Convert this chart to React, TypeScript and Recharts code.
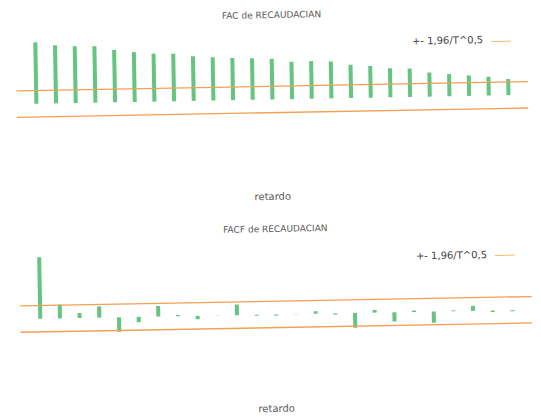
import React from 'react';
import { ComposedChart, Bar, XAxis, YAxis, ReferenceLine } from 'recharts';

const lags = [1, 2, 3, 4, 5, 6, 7, 8, 9, 10, 11, 12, 13, 14, 15, 16, 17, 18, 19, 20, 21, 22, 23, 24, 25];
const acfValues = [0.93, 0.88, 0.86, 0.855, 0.795, 0.755, 0.725, 0.72, 0.675, 0.655, 0.64, 0.63, 0.615, 0.565, 0.57, 0.56, 0.505, 0.48, 0.44, 0.43, 0.365, 0.335, 0.31, 0.285, 0.245];
const pacfValues = [0.93, 0.21, 0.075, 0.17, -0.22, -0.08, 0.16, 0.018, -0.053, 0.003, 0.16, -0.015, -0.018, -0.004, 0.036, -0.02, -0.225, 0.04, -0.14, 0.02, -0.17, 0.012, 0.075, -0.024, -0.017];
const bandLimit = 0.2;
const xDomain: [number, number] = [0, 26];
const yDomain: [number, number] = [-1, 1];
const titles = ['FAC de RECAUDACIAN', 'FACF de RECAUDACIAN'];
const xLabel = 'retardo';
const legendLabel = '+- 1,96/T^0,5';

const GREEN = '#64c480';
const ORANGE = '#f2a055';
const FONT = '"DejaVu Sans", sans-serif';

type PanelProps = { values: number[]; title: string; top: number; labelY: number };

function Panel({ values, title, top, labelY }: PanelProps) {
  const data = lags.map((lag, i) => ({ lag, value: values[i] }));
  return (
    <div style={{ position: 'absolute', left: 0, top, width: 541, height: 200 }}>
      <ComposedChart width={541} height={200} data={data} margin={{ top: 33.5, right: 11, bottom: 34.5, left: 18.5 }}>
        <XAxis
          dataKey="lag"
          type="number"
          domain={xDomain}
          tick={false}
          tickLine={false}
          height={0}
          axisLine={{ stroke: '#dcdcdc', strokeDasharray: '1 3' }}
        />
        <YAxis
          type="number"
          domain={yDomain}
          width={0}
          tick={false}
          tickLine={false}
          axisLine={{ stroke: '#dcdcdc', strokeDasharray: '1 2' }}
        />
        <Bar dataKey="value" fill={GREEN} barSize={4} isAnimationActive={false} />
        <ReferenceLine y={bandLimit} stroke={ORANGE} strokeWidth={1.3} />
        <ReferenceLine y={-bandLimit} stroke={ORANGE} strokeWidth={1.3} />
      </ComposedChart>
      <div style={{ position: 'absolute', left: 175, width: 200, top: 9.5, textAlign: 'center', fontFamily: FONT, fontSize: 9, lineHeight: '11px', color: '#5a5a5a' }}>
        {title}
      </div>
      <div style={{ position: 'absolute', left: 415, top: 38, fontFamily: FONT, fontSize: 10, lineHeight: '12px', color: '#444', whiteSpace: 'nowrap' }}>
        {legendLabel}
      </div>
      <div style={{ position: 'absolute', left: 494, top: 44.5, width: 20, height: 0, borderTop: `1.3px solid #f5bc70` }} />
      <div style={{ position: 'absolute', left: 173, width: 200, top: labelY - 6, textAlign: 'center', fontFamily: FONT, fontSize: 10, lineHeight: '12px', color: '#5a5a5a' }}>
        {xLabel}
      </div>
    </div>
  );
}

export default function App() {
  return (
    <div style={{ position: 'absolute', left: 0, top: 0, width: 541, height: 417, background: '#fff', overflow: 'hidden' }}>
      <div style={{ position: 'absolute', left: 0, top: 0, width: 541, height: 417, transform: 'rotate(-1.04deg)', transformOrigin: '270.5px 208.5px' }}>
        <Panel values={acfValues} title={titles[0]} top={0} labelY={197} />
        <Panel values={pacfValues} title={titles[1]} top={214.8} labelY={194} />
      </div>
    </div>
  );
}
